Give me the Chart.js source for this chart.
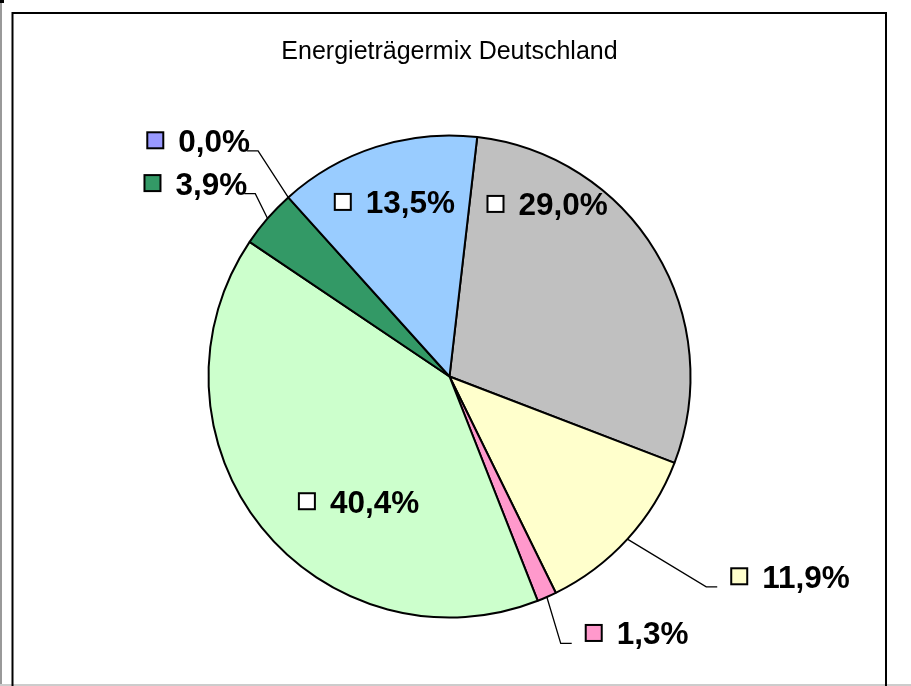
<!DOCTYPE html>
<html>
<head>
<meta charset="utf-8">
<script src="https://cdn.jsdelivr.net/npm/chart.js@4/dist/chart.umd.min.js"></script>
<style>
    html, body { margin: 0; padding: 0; background: #fff; }
    #wrap { position: relative; width: 911px; height: 686px; }
</style>
</head>
<body>
<div id="wrap"><canvas id="chart"></canvas></div>
<script>
// slice order runs clockwise, starting just right of 12 o'clock
const categories = ['Anteil 1', 'Anteil 2', 'Anteil 3', 'Anteil 4', 'Anteil 5', 'Anteil 6', 'Anteil 7'];
const shares = [29.0, 11.9, 1.3, 40.4, 3.9, 0.0, 13.5];
const sliceColors = ['#C0C0C0', '#FFFFCC', '#FF99CC', '#CCFFCC', '#339966', '#9999FF', '#99CCFF'];

// where each percentage label sits: inside the slice or outside with a leader line
// dist = fraction of the radius, turn = degrees away from the slice's mid angle
const labelLayout = [
    { inside: true, dist: 0.822, turn: -29.1 },
    { inside: false, dist: 1.377, turn: -3.1 },
    { inside: false, dist: 1.2, turn: 1.2 },
    { inside: true, dist: 0.641, turn: -15.4 },
    { inside: false, dist: 1.107, turn: 2.3 },
    { inside: false, dist: 1.228, turn: 1.7 },
    { inside: true, dist: 0.757, turn: 0.3 }
];

const labelFont = 'bold 31.5px "Liberation Sans", Arial, sans-serif';

const framePlugin = {
    id: 'frame',
    beforeDraw(chart) {
        const ctx = chart.ctx;
        ctx.save();
        ctx.fillStyle = '#fff';
        ctx.fillRect(0, 0, chart.width, chart.height);
        ctx.fillStyle = '#999';
        ctx.fillRect(0, 0, 2, chart.height);
        ctx.fillStyle = '#ccc';
        ctx.fillRect(0, chart.height - 2, chart.width, 2);
        ctx.fillStyle = '#000';
        ctx.fillRect(0, 0, 4, 3);
        ctx.strokeStyle = '#000';
        ctx.lineWidth = 2;
        ctx.beginPath();
        ctx.moveTo(12.5, chart.height + 5);
        ctx.lineTo(12.5, 13);
        ctx.lineTo(886, 13);
        ctx.lineTo(886, chart.height + 5);
        ctx.stroke();
        ctx.restore();
    }
};

const percentLabels = {
    id: 'percentLabels',
    afterDatasetsDraw(chart) {
        const ctx = chart.ctx;
        const arcs = chart.getDatasetMeta(0).data;
        ctx.save();
        ctx.font = labelFont;
        ctx.textBaseline = 'alphabetic';
        arcs.forEach((arc, i) => {
            const { x, y, startAngle, endAngle, outerRadius } = arc.getProps(['x', 'y', 'startAngle', 'endAngle', 'outerRadius'], true);
            const mid = (startAngle + endAngle) / 2;
            const layout = labelLayout[i];
            const a = mid + layout.turn * Math.PI / 180;
            const px = x + Math.cos(a) * outerRadius * layout.dist;
            const py = y + Math.sin(a) * outerRadius * layout.dist;
            const text = shares[i].toFixed(1).replace('.', ',') + '%';
            const tw = ctx.measureText(text).width;
            const box = 16;
            const gap = 15;

            let boxX, textX, baseline;
            if (layout.inside) {
                const groupW = box + gap + tw;
                boxX = px - groupW / 2;
                textX = boxX + box + gap;
                baseline = py + 11;
            } else {
                const ex = x + Math.cos(mid) * outerRadius;
                const ey = y + Math.sin(mid) * outerRadius;
                const right = Math.cos(a) > 0;
                const endX = px + (right ? 11 : -11);
                ctx.strokeStyle = '#000';
                ctx.lineWidth = 1.3;
                ctx.beginPath();
                ctx.moveTo(ex, ey);
                ctx.lineTo(px, py);
                ctx.lineTo(endX, py);
                ctx.stroke();
                baseline = py + 1;
                if (right) {
                    boxX = endX + 14;
                    textX = boxX + box + gap;
                } else {
                    textX = endX + 3 - tw;
                    boxX = textX - gap - box;
                }
            }

            ctx.fillStyle = layout.inside ? '#fff' : sliceColors[i];
            ctx.strokeStyle = '#000';
            ctx.lineWidth = 2;
            const boxY = baseline - 11.5 - box / 2;
            ctx.fillRect(boxX, boxY, box, box);
            ctx.strokeRect(boxX, boxY, box, box);

            ctx.fillStyle = '#000';
            ctx.textAlign = 'left';
            ctx.fillText(text, textX, baseline);
        });
        ctx.restore();
    }
};

const canvas = document.getElementById('chart');
canvas.width = 911;
canvas.height = 686;

new Chart(canvas.getContext('2d'), {
    type: 'pie',
    data: {
        labels: categories,
        datasets: [{
            data: shares,
            backgroundColor: sliceColors,
            borderColor: '#000',
            borderWidth: 2,
            radius: 241
        }]
    },
    options: {
        responsive: false,
        animation: false,
        rotation: 6.6,
        layout: { padding: { top: 0, bottom: 10, left: 20, right: 32 } },
        plugins: {
            legend: { display: false },
            tooltip: { enabled: false },
            title: {
                display: true,
                text: 'Energieträgermix Deutschland',
                color: '#000',
                font: { family: '"Liberation Sans", Arial, sans-serif', size: 25, weight: 'normal', lineHeight: 1.2 },
                padding: { top: 37, bottom: 10 }
            }
        }
    },
    plugins: [framePlugin, percentLabels]
});
</script>
</body>
</html>
